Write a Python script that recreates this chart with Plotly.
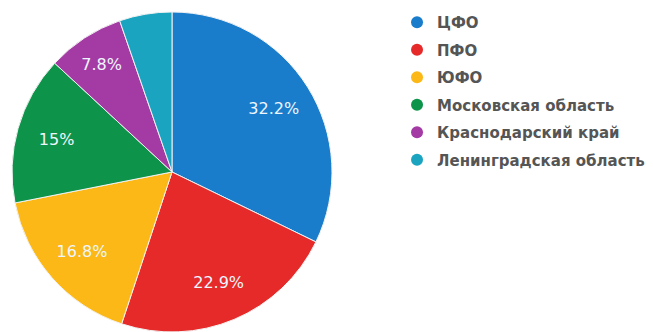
import plotly.graph_objects as go

labels = ["ЦФО", "ПФО", "ЮФО", "Московская область", "Краснодарский край", "Ленинградская область"]
values = [32.2, 22.9, 16.8, 15.0, 7.8, 5.3]
text_labels = ["32.2%", "22.9%", "16.8%", "15%", "7.8%", ""]
colors = ["#1a7dcc", "#e62a2a", "#fbb817", "#0e944a", "#a43ba5", "#1ba4c0"]

pie_domain = dict(x=[0.0184, 0.5084], y=[0, 0.964])

fig = go.Figure()
# coloured slices
fig.add_trace(go.Pie(
    labels=labels, values=values, textinfo="none",
    marker=dict(colors=colors, line=dict(color="#f2f2f2", width=1)),
    sort=False, direction="clockwise", rotation=0,
    showlegend=False, hoverinfo="label+percent",
    domain=pie_domain,
))
# percentage labels, placed in the outer ring of the same pie
fig.add_trace(go.Pie(
    labels=labels, values=values, text=text_labels, hole=0.5,
    textinfo="text", textposition="inside", insidetextorientation="horizontal",
    textfont=dict(color="#eef6ff", size=16, family="DejaVu Sans"),
    marker=dict(colors=["rgba(0,0,0,0)"] * len(values), line=dict(width=0)),
    sort=False, direction="clockwise", rotation=0,
    showlegend=False, hoverinfo="skip",
    domain=pie_domain,
))
for i, (lab, col) in enumerate(zip(labels, colors)):
    fig.add_trace(go.Scatter(
        x=[None], y=[None], mode="markers", name=lab, legendgroup=f"g{i}",
        marker=dict(color=col, size=13, symbol="circle"),
    ))

fig.update_layout(
    width=653, height=332,
    margin=dict(l=0, r=0, t=0, b=0),
    paper_bgcolor="white", plot_bgcolor="white",
    xaxis=dict(visible=False), yaxis=dict(visible=False),
    legend=dict(x=0.608, y=0.982, xanchor="left", yanchor="top",
                font=dict(size=15, color="#555555", family="DejaVu Sans", weight=600),
                itemsizing="constant", tracegroupgap=5, itemwidth=30,
                bgcolor="rgba(0,0,0,0)"),
    showlegend=True,
)
fig.write_html("out.html", config={"displayModeBar": False},
               post_script="document.body.style.margin='0px';")
